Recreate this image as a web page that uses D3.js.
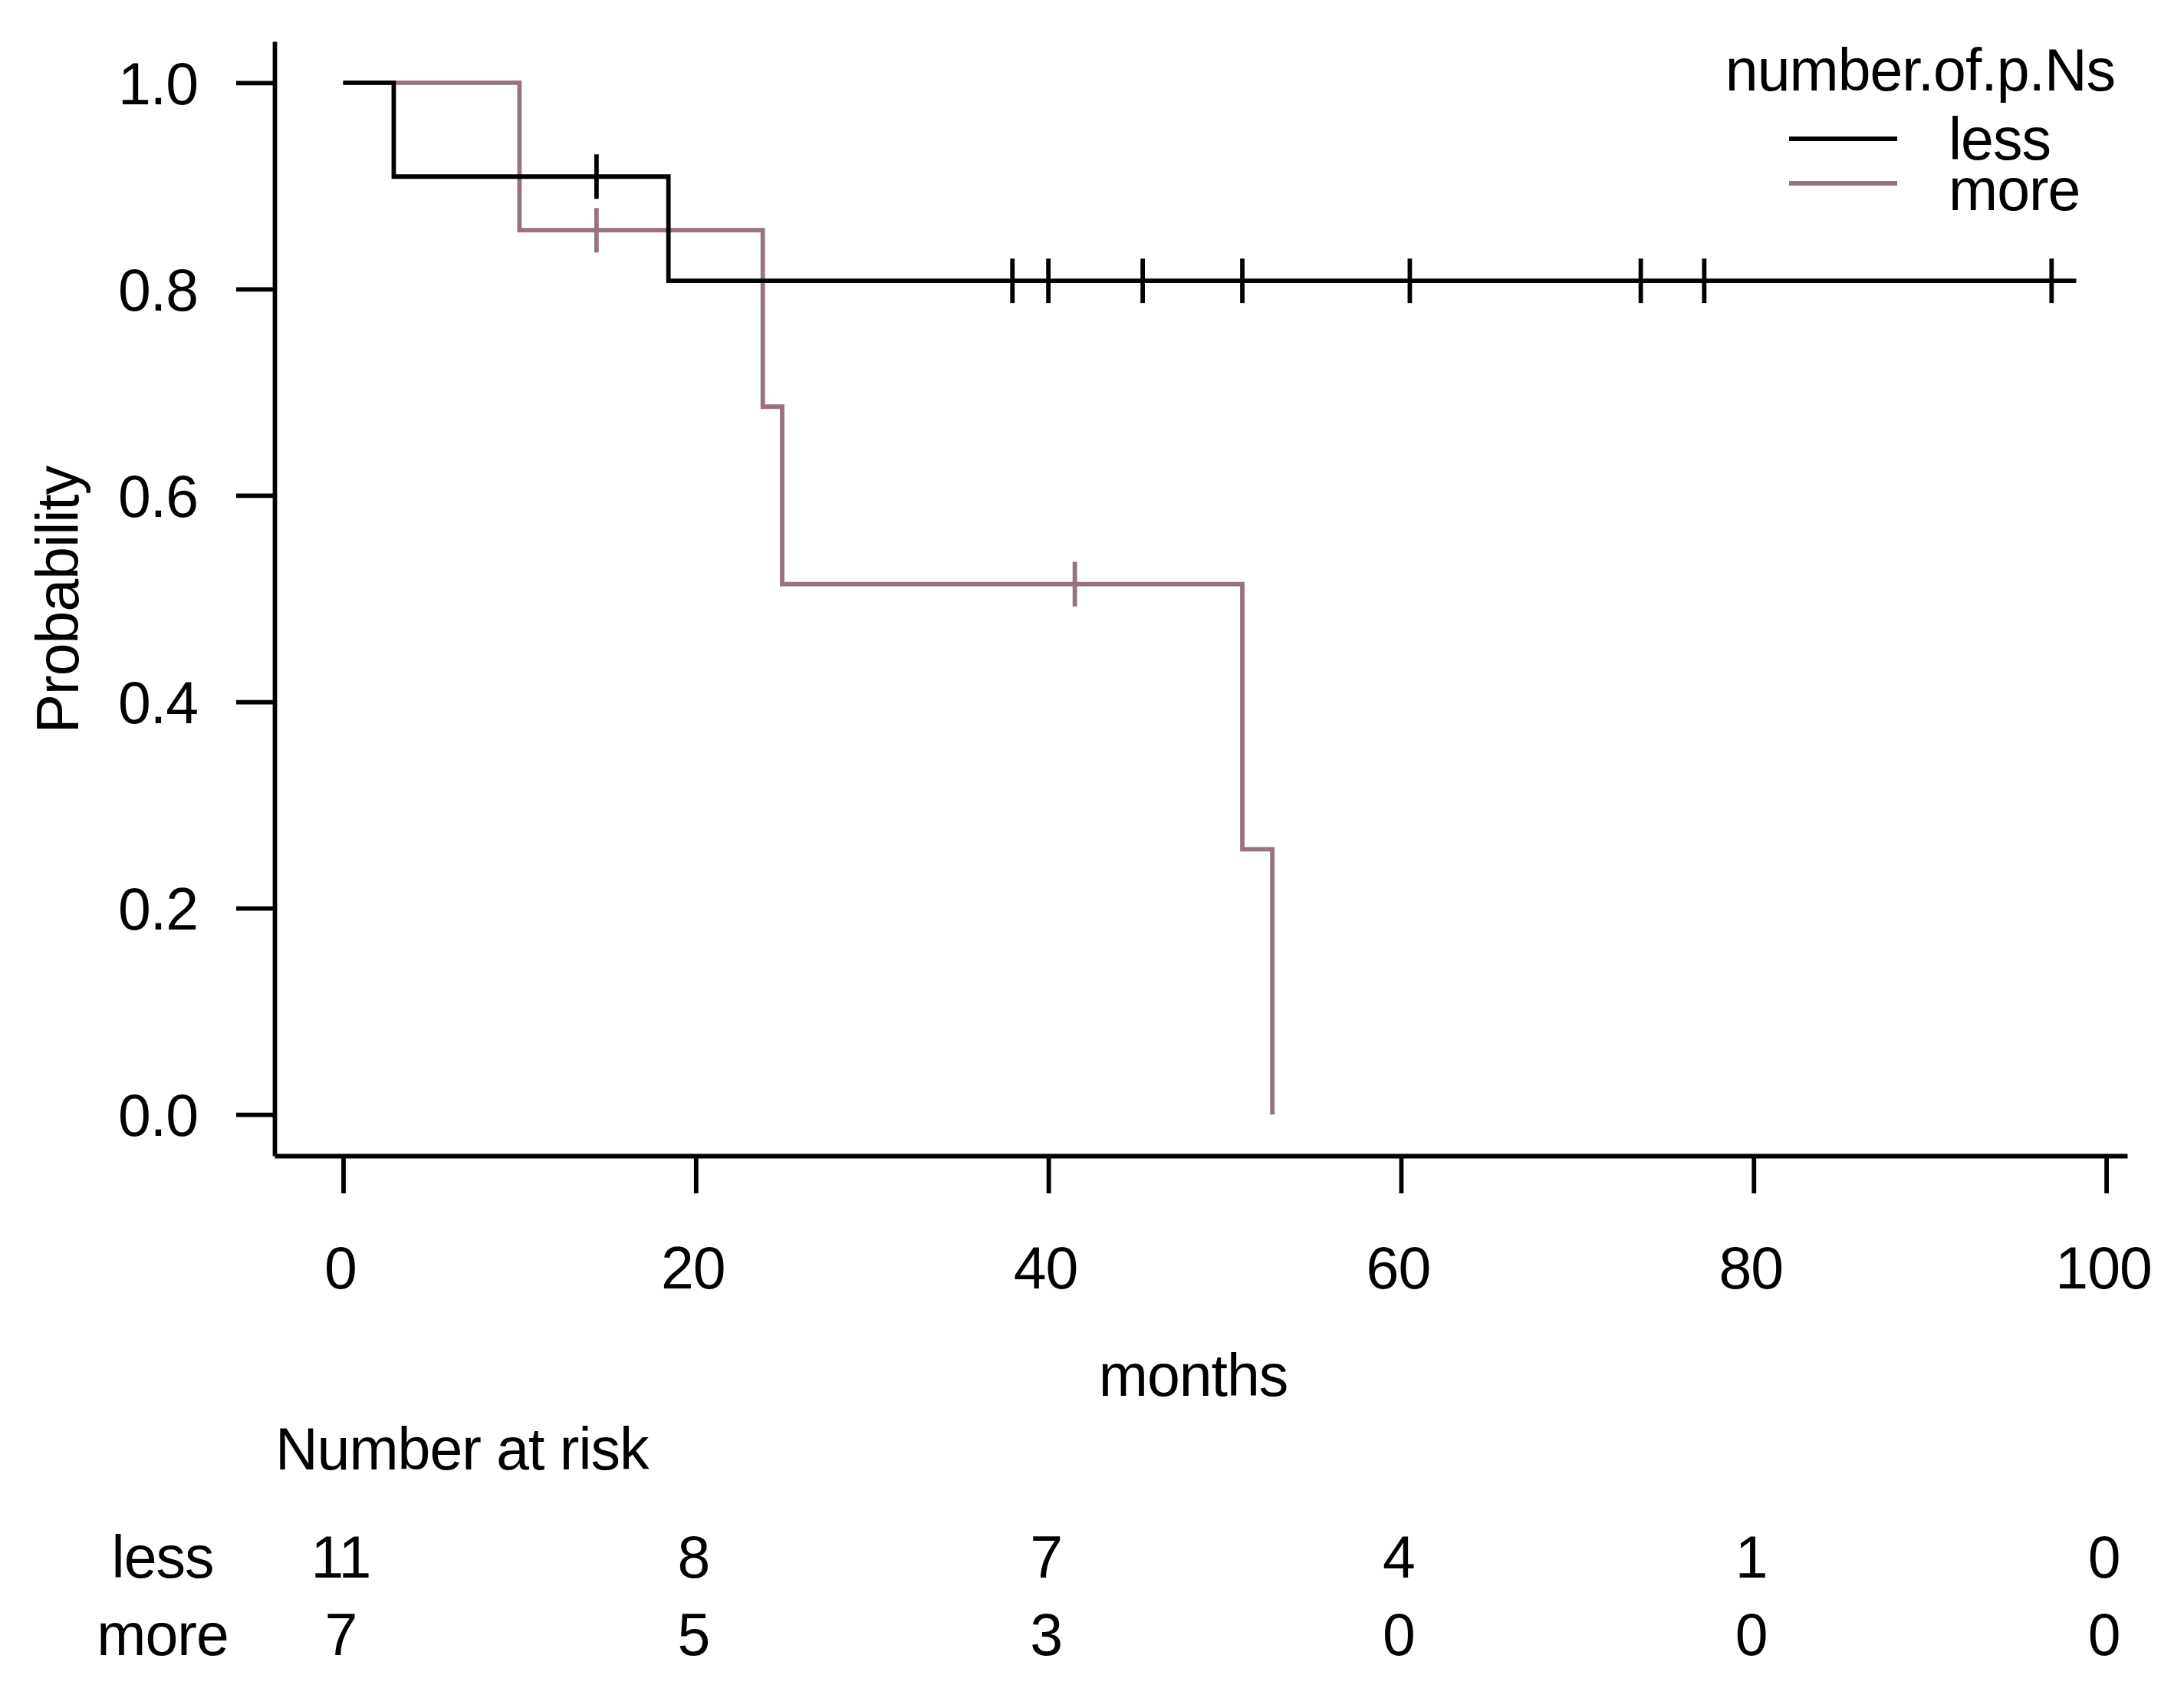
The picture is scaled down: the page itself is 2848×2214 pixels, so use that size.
<!DOCTYPE html>
<html>
<head>
<meta charset="utf-8">
<script src="https://cdn.jsdelivr.net/npm/d3@7"></script>
<style>
  html, body { margin: 0; padding: 0; background: #fff; }
  svg { display: block; }
  text { font-family: "Liberation Sans", Arial, sans-serif; fill: #000; letter-spacing: -1px; }
</style>
</head>
<body>
<svg id="chart" width="2848" height="2214"></svg>
<script>
// ---- data ----
const groups = ["less", "more"];
const groupColors = ["#000000", "#98727f"];
const legendTitle = "number.of.p.Ns";

const lessTimes = [0, 2.87, 18.45];
const lessSurv  = [1.0, 0.909, 0.808];
const lessEnd   = 98.3;
const lessCensor = [14.37, 37.96, 40.0, 45.35, 51.0, 60.5, 73.6, 77.2, 96.9];

const moreTimes = [0, 10.0, 23.8, 24.9, 51.0, 52.7];
const moreSurv  = [1.0, 0.857, 0.686, 0.514, 0.257, 0.0];
const moreEnd   = 52.7;
const moreCensor = [14.37, 41.5];

const xTicks = [0, 20, 40, 60, 80, 100];
const yTicks = [0.0, 0.2, 0.4, 0.6, 0.8, 1.0];
const riskTimes = [0, 20, 40, 60, 80, 100];
const riskLess = [11, 8, 7, 4, 1, 0];
const riskMore = [7, 5, 3, 0, 0, 0];

const xLabel = "months";
const yLabel = "Probability";
const riskTitle = "Number at risk";

// ---- layout ----
const svg = d3.select("#chart");
const plotLeft = 358, plotRight = 2774, plotTop = 54, plotBottom = 1507;
const fs = 77;
const lw = 5.8;

const xlim = [0, 97.3];
const xr = xlim[1] - xlim[0];
const x = d3.scaleLinear().domain([xlim[0] - 0.04 * xr, xlim[1] + 0.04 * xr]).range([plotLeft, plotRight]);
const y = d3.scaleLinear().domain([-0.04, 1.04]).range([plotBottom, plotTop]);

// axes
const xAxis = d3.axisBottom(x).tickValues(xTicks).tickSize(49).tickSizeOuter(0).tickFormat(d3.format("d"));
const gx = svg.append("g").attr("transform", `translate(0,${plotBottom})`).call(xAxis);
gx.select(".domain").attr("stroke", "#000").attr("stroke-width", lw);
gx.selectAll(".tick line").attr("stroke", "#000").attr("stroke-width", lw);
gx.selectAll(".tick text").attr("x", -4).attr("y", 173).attr("dy", 0).attr("font-size", fs)
  .attr("font-family", "Liberation Sans, Arial, sans-serif").attr("fill", "#000");

const yAxis = d3.axisLeft(y).tickValues(yTicks).tickSize(50).tickSizeOuter(0).tickFormat(d3.format(".1f"));
const gy = svg.append("g").attr("transform", `translate(${plotLeft},0)`).call(yAxis);
gy.select(".domain").attr("stroke", "#000").attr("stroke-width", lw);
gy.selectAll(".tick line").attr("stroke", "#000").attr("stroke-width", lw);
gy.selectAll(".tick text").attr("x", -100).attr("dy", "0.36em").attr("font-size", fs)
  .attr("font-family", "Liberation Sans, Arial, sans-serif").attr("fill", "#000");

// axis titles
svg.append("text").attr("x", 1556).attr("y", 1820).attr("text-anchor", "middle")
  .attr("font-size", fs).text(xLabel);
svg.append("text").attr("transform", `translate(102,782) rotate(-90)`).attr("text-anchor", "middle")
  .attr("font-size", fs).text(yLabel);

// curves
const line = d3.line().x(d => x(d[0])).y(d => y(d[1])).curve(d3.curveStepAfter);
function survAt(times, surv, t) {
  let s = surv[0];
  for (let i = 0; i < times.length; i++) if (times[i] <= t) s = surv[i];
  return s;
}
const series = [
  { times: lessTimes, surv: lessSurv, end: lessEnd, censor: lessCensor, color: groupColors[0] },
  { times: moreTimes, surv: moreSurv, end: moreEnd, censor: moreCensor, color: groupColors[1] }
];
series.slice().reverse().forEach(s => {
  const pts = s.times.map((t, i) => [t, s.surv[i]]);
  if (s.end > s.times[s.times.length - 1]) pts.push([s.end, s.surv[s.surv.length - 1]]);
  svg.append("path").attr("d", line(pts)).attr("fill", "none")
    .attr("stroke", s.color).attr("stroke-width", lw);
  svg.append("g").selectAll("line").data(s.censor).join("line")
    .attr("x1", d => x(d)).attr("x2", d => x(d))
    .attr("y1", d => y(survAt(s.times, s.surv, d)) - 29)
    .attr("y2", d => y(survAt(s.times, s.surv, d)) + 29)
    .attr("stroke", s.color).attr("stroke-width", lw);
});

// legend
svg.append("text").attr("x", 2758).attr("y", 118).attr("text-anchor", "end")
  .attr("font-size", fs).text(legendTitle);
const legY = [181, 239];
const legTextY = [208, 274];
groups.forEach((g, i) => {
  svg.append("line").attr("x1", 2333).attr("x2", 2474).attr("y1", legY[i]).attr("y2", legY[i])
    .attr("stroke", groupColors[i]).attr("stroke-width", lw);
  svg.append("text").attr("x", 2541).attr("y", legTextY[i]).attr("font-size", fs).text(g);
});

// risk table
svg.append("text").attr("x", 359).attr("y", 1916).attr("font-size", fs).text(riskTitle);
const rowY = [2057, 2158];
[riskLess, riskMore].forEach((row, i) => {
  svg.append("text").attr("x", 212).attr("y", rowY[i]).attr("text-anchor", "middle")
    .attr("font-size", fs).text(groups[i]);
  svg.append("g").selectAll("text").data(row).join("text")
    .attr("x", (d, j) => x(riskTimes[j]) - 3).attr("y", rowY[i]).attr("text-anchor", "middle")
    .attr("font-size", fs).text(d => d);
});
</script>
</body>
</html>
